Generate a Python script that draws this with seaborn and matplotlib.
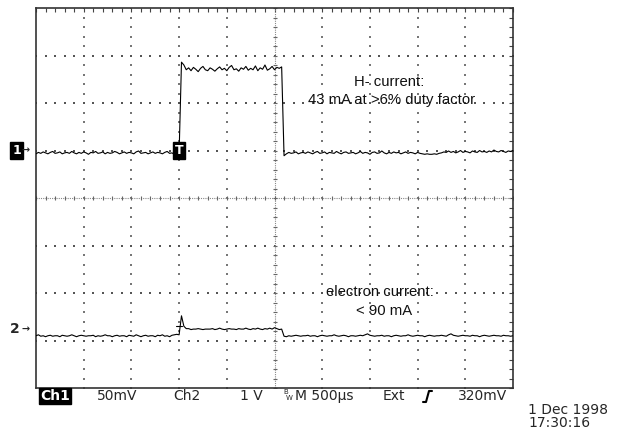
import numpy as np
import matplotlib.pyplot as plt
from matplotlib.lines import Line2D
import seaborn as sns

# oscilloscope capture: 500 us/div, 10 divisions, trace values in divisions
t_us = np.arange(0, 5001, 25)
trigger_us = 1500
ch1_ground = 1.0
ch2_ground = -2.76

ch1_div = [
    0.93, 0.96, 0.94, 0.97, 0.95, 0.93, 0.96, 0.98, 0.94, 0.95, 0.97, 0.93, 0.95, 0.96, 0.94, 0.98, 0.95, 0.93, 0.96, 0.94,
    0.97, 0.95, 0.92, 0.96, 0.95, 0.98, 0.94, 0.95, 0.97, 0.93, 0.96, 0.94, 0.95, 0.98, 0.96, 0.93, 0.95, 0.97, 0.94, 0.96,
    0.95, 0.93, 0.97, 0.99, 0.94, 0.95, 0.96, 0.93, 0.95, 0.97, 0.94, 0.96, 0.95, 0.93, 0.96, 0.98, 0.94, 0.95, 0.92, 0.93,
    0.94,
    2.86, 2.80, 2.70, 2.74, 2.68, 2.75, 2.71, 2.66, 2.73, 2.77,
    2.70, 2.68, 2.74, 2.71, 2.67, 2.72, 2.76, 2.70, 2.73, 2.68,
    2.75, 2.79, 2.70, 2.72, 2.67, 2.74, 2.71, 2.77, 2.69, 2.73,
    2.70, 2.78, 2.68, 2.74, 2.71, 2.80, 2.69, 2.72, 2.77, 2.70,
    2.75, 2.73, 2.76,
    0.89, 0.93, 0.96, 0.94, 0.95, 0.97, 0.93, 0.95, 0.96, 0.94,
    0.97, 0.95, 0.93, 0.96, 0.98, 0.94, 0.95, 0.97, 0.93, 0.96, 0.95, 0.94, 0.98, 0.95, 0.93, 0.96, 0.97, 0.94, 0.95, 0.96,
    0.93, 0.95, 0.98, 0.94, 0.96, 0.95, 0.92, 0.96, 0.97, 0.94, 0.95, 0.99, 0.95, 0.93, 0.96, 0.94, 0.97, 0.95, 0.96, 0.93,
    0.95, 0.97, 0.94, 0.96, 0.95, 0.93, 0.96, 0.94, 0.93, 0.92, 0.93, 0.92, 0.92, 0.93, 0.92, 0.94, 0.95, 0.97, 0.96, 0.99,
    0.96, 0.98, 0.95, 0.97, 1.00, 0.96, 0.98, 0.97, 0.95, 0.99, 0.97, 0.96, 1.00, 0.97, 0.98, 0.96, 0.99, 0.97, 1.01, 0.98,
    0.97, 1.00, 0.98, 0.96, 0.99, 0.98, 1.00,
]

ch2_div = [
    -2.90, -2.88, -2.91, -2.90, -2.92, -2.90, -2.89, -2.91, -2.90, -2.90, -2.92, -2.89, -2.90, -2.91, -2.90, -2.88, -2.90, -2.92, -2.90, -2.89,
    -2.90, -2.91, -2.90, -2.90, -2.89, -2.92, -2.90, -2.91, -2.90, -2.88, -2.90, -2.90, -2.92, -2.90, -2.89, -2.91, -2.90, -2.90, -2.92, -2.89,
    -2.90, -2.91, -2.88, -2.90, -2.92, -2.90, -2.89, -2.91, -2.90, -2.90, -2.92, -2.89, -2.90, -2.88, -2.91, -2.90, -2.92, -2.89, -2.88, -2.87,
    -2.88,
    -2.48, -2.70, -2.75,
    -2.75, -2.77, -2.76, -2.76, -2.75, -2.76, -2.77, -2.76, -2.76, -2.76,
    -2.75, -2.77, -2.76, -2.74, -2.76, -2.77, -2.76, -2.75, -2.76, -2.76,
    -2.77, -2.75, -2.76, -2.76, -2.74, -2.76, -2.77, -2.75, -2.76, -2.74,
    -2.76, -2.77, -2.75, -2.76, -2.74, -2.76, -2.73, -2.75, -2.77, -2.76,
    -2.91, -2.92, -2.90, -2.91, -2.90, -2.89, -2.90, -2.91, -2.90, -2.90,
    -2.89, -2.91, -2.90, -2.90, -2.92, -2.90, -2.89, -2.90, -2.91, -2.90, -2.90, -2.88, -2.90, -2.91, -2.90, -2.89, -2.90, -2.92, -2.90, -2.90,
    -2.91, -2.90, -2.89, -2.90, -2.88, -2.86, -2.89, -2.90, -2.91, -2.90, -2.90, -2.89, -2.91, -2.90, -2.90, -2.92, -2.90, -2.89, -2.90, -2.91,
    -2.90, -2.90, -2.88, -2.90, -2.91, -2.90, -2.89, -2.90, -2.90, -2.92, -2.90, -2.89, -2.90, -2.91, -2.90, -2.90, -2.89, -2.90, -2.91, -2.88,
    -2.86, -2.89, -2.90, -2.91, -2.90, -2.89, -2.90, -2.90, -2.91, -2.89, -2.90, -2.90, -2.92, -2.90, -2.89, -2.90, -2.91, -2.90, -2.89, -2.90,
    -2.90, -2.91, -2.89, -2.90, -2.90, -2.91, -2.90,
]

status_items = ["50mV", "Ch2", "1 V", "M 500\u00b5s", "Ext", "320mV"]
status_x = [97, 173, 240, 295, 383, 458]

sns.set_style("white")
plt.rcParams["font.family"] = ["DejaVu Sans"]

fig = plt.figure(figsize=(6.18, 4.34), dpi=100)
ax = fig.add_axes([36 / 618, 46 / 434, 477 / 618, 380 / 434])

us_per_div = 500
x = t_us / us_per_div

# graticule dots
dot = "#555555"
fine = np.arange(0, 10.01, 0.2)
fine_y = np.arange(-4, 4.01, 0.2)
for gx in [1, 2, 3, 4, 6, 7, 8, 9]:
    ax.scatter(np.full(len(fine_y), gx), fine_y, s=0.9, marker="s", color="#777777", linewidths=0, zorder=1)
for gy in [-3, -2, -1, 1, 2, 3]:
    ax.scatter(fine, np.full(len(fine), gy), s=0.9, marker="s", color=dot, linewidths=0, zorder=1)
ax.axvline(5, color="#8a8a8a", lw=0.8, ls=(0, (1, 1)), zorder=1)
ax.axhline(0, color="#8a8a8a", lw=0.8, ls=(0, (1, 1)), zorder=1)
ax.scatter(np.full(len(fine_y), 5), fine_y, s=10, marker="_", color="#666666", linewidths=0.8, zorder=1)
ax.scatter(fine, np.zeros(len(fine)), s=10, marker="|", color="#666666", linewidths=0.8, zorder=1)

sns.lineplot(x=x, y=ch1_div, color="black", linewidth=0.8, estimator=None, sort=False, ax=ax, zorder=3)
sns.lineplot(x=x, y=ch2_div, color="black", linewidth=0.8, estimator=None, sort=False, ax=ax, zorder=3)

ax.set_xlim(0, 10)
ax.set_ylim(-4, 4)
ax.set_xticks(fine)
ax.set_yticks(fine_y)
ax.tick_params(direction="in", length=3, width=0.8, color="#444444",
               top=True, right=True, labelbottom=False, labelleft=False)
ax.set_xlabel("")
ax.set_ylabel("")
for s in ax.spines.values():
    s.set_color("#333333")
    s.set_linewidth(1.2)

# trigger markers
trig = trigger_us / us_per_div
ax.text(trig, ch1_ground, "T", color="white", fontsize=9, fontweight="bold", ha="center", va="center",
        bbox=dict(boxstyle="square,pad=0.15", fc="black", ec="black"), zorder=5)
ax.plot([trig - 0.07, trig + 0.07], [ch2_ground + 0.07, ch2_ground + 0.07], color="black", lw=0.8, zorder=4)

# channel ground markers
ax.text(-0.41, ch1_ground, "1", color="white", fontsize=9, fontweight="bold", ha="center", va="center",
        bbox=dict(boxstyle="square,pad=0.15", fc="black", ec="black"), clip_on=False)
ax.text(-0.13, ch1_ground, "\u2192", fontsize=7, fontweight="bold", ha="right", va="center", clip_on=False)
ax.text(-0.45, ch2_ground, "2", fontsize=10, fontweight="bold", ha="center", va="center", clip_on=False)
ax.text(-0.13, ch2_ground, "\u2192", fontsize=7, fontweight="bold", ha="right", va="center", clip_on=False)

# annotations
note = dict(fontsize=10.7, color="#111111", ha="center", va="center", family=["Liberation Sans", "DejaVu Sans"])
ax.text(7.40, 2.45, "H- current:", **note)
ax.text(7.45, 2.06, "43 mA at >6% duty factor", **note)
ax.text(7.21, -1.98, "electron current:", **note)
ax.text(7.30, -2.38, "< 90 mA", **note)

# status bar
ys = 1 - 396 / 434
fig.text(40 / 618, ys, "Ch1", color="white", fontsize=10, fontweight="bold", ha="left", va="center",
         bbox=dict(boxstyle="square,pad=0.05", fc="black", ec="black"))
for lbl, px in zip(status_items, status_x):
    fig.text(px / 618, ys, lbl, fontsize=10, ha="left", va="center")
fig.text(283 / 618, 1 - 392 / 434, "B", fontsize=5, ha="left", va="center")
fig.text(286 / 618, 1 - 398 / 434, "W", fontsize=5, ha="left", va="center")
edge_x = np.array([423, 426, 429, 432]) / 618
edge_y = 1 - np.array([402, 402, 391, 391]) / 434
fig.add_artist(Line2D(edge_x, edge_y, color="black", lw=1.5))

fig.text(528 / 618, 1 - 410 / 434, "1 Dec 1998", fontsize=10, ha="left", va="center")
fig.text(528 / 618, 1 - 423 / 434, "17:30:16", fontsize=10, ha="left", va="center")

fig.savefig("out.png", dpi=100)
